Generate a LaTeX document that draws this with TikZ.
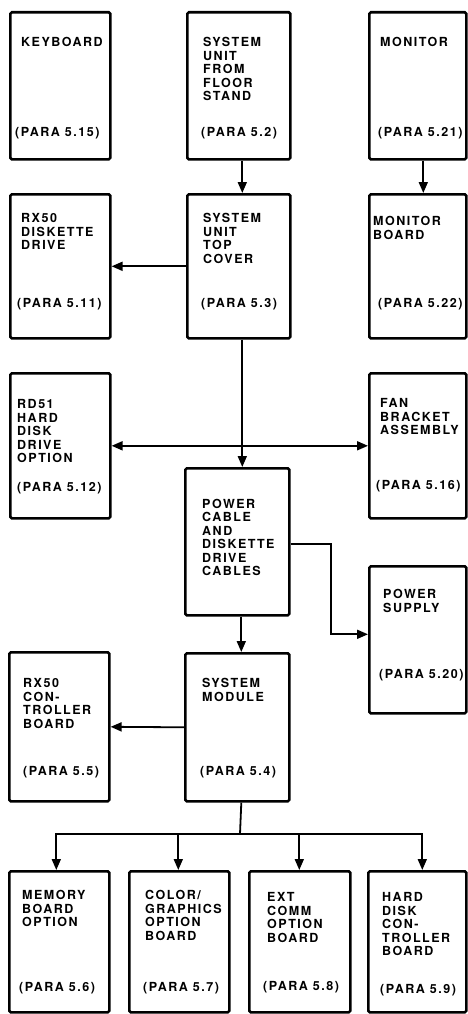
\documentclass[tikz,border=0pt]{standalone}
\usepackage{fontspec}
\setmainfont{TeX Gyre Heros}[LetterSpace=12]
\usetikzlibrary{arrows.meta,calc}

\tikzset{
  unit/.style={draw, line width=2.6pt, rounded corners=1.5pt, anchor=north west, inner sep=0pt},
  title/.style={anchor=north west, align=left, inner sep=0pt, font=\fontsize{12.5}{13.5}\selectfont\bfseries},
  para/.style={anchor=base west, inner sep=0pt, font=\fontsize{12.5}{13.5}\selectfont\bfseries},
  link/.style={line width=1.8pt, -{Triangle[length=11pt,width=9pt]}},
}

\begin{document}
\begin{tikzpicture}[x=1pt,y=-1pt]
  \useasboundingbox (0,0) rectangle (467,1014);
  % boxes: name / left / top / width / height
  \foreach \nm/\x/\y/\w/\h in {kbd/9/11/100/147, floor/186/11/103/147, mon/368/11/97/147,
      rxd/9/193/100/144, cover/186/193/103/144, monb/368/193/97/144,
      rd51/9/372/100/145, fan/368/372/97/145, cable/184/467/104/147, psu/368/565/97/147,
      rxc/8/651/100/149, sysmod/184/652/104/148,
      mem/8/870/100/141, col/128/870/100/141, ext/248/870/101/141, hdc/367/870/98/141}
    \node[unit, minimum width=\w pt, minimum height=\h pt] (\nm) at (\x,\y) {};

  % titles
  \node[title] (kbd-t) at (21,37.5) {KEYBOARD};
  \node[title] (floor-t) at (203,37.5) {SYSTEM\\UNIT\\FROM\\FLOOR\\STAND};
  \node[title] (mon-t) at (380,37.5) {MONITOR};
  \node[title] (rxd-t) at (21,213.5) {RX50\\DISKETTE\\DRIVE};
  \node[title] (cover-t) at (203,213.5) {SYSTEM\\UNIT\\TOP\\COVER};
  \node[title] (monb-t) at (373,216.5) {MONITOR\\BOARD};
  \node[title] (rd51-t) at (17,399.5) {RD51\\HARD\\DISK\\DRIVE\\OPTION};
  \node[title] (fan-t) at (380,398.5) {FAN\\BRACKET\\ASSEMBLY};
  \node[title] (cable-t) at (202,499) {POWER\\CABLE\\AND\\DISKETTE\\DRIVE\\CABLES};
  \node[title] (psu-t) at (383,589.5) {POWER\\SUPPLY};
  \node[title] (rxc-t) at (23,678.5) {RX50\\CON-\\TROLLER\\BOARD};
  \node[title] (sysmod-t) at (202,678.5) {SYSTEM\\MODULE};
  \node[title] (mem-t) at (22,890.5) {MEMORY\\BOARD\\OPTION};
  \node[title] (col-t) at (145,890.5) {COLOR/\\GRAPHICS\\OPTION\\BOARD};
  \node[title] (ext-t) at (267,892.5) {EXT\\COMM\\OPTION\\BOARD};
  \node[title] (hdc-t) at (382,892.5) {HARD\\DISK\\CON-\\TROLLER\\BOARD};

  % paragraph references
  \node[para] (kbd-p) at (15,136.5) {(PARA 5.15)};
  \node[para] (floor-p) at (201,136.5) {(PARA 5.2)};
  \node[para] (mon-p) at (378,136.5) {(PARA 5.21)};
  \node[para] (rxd-p) at (17,307.5) {(PARA 5.11)};
  \node[para] (cover-p) at (201,307.5) {(PARA 5.3)};
  \node[para] (monb-p) at (378,307.5) {(PARA 5.22)};
  \node[para] (rd51-p) at (17,491.5) {(PARA 5.12)};
  \node[para] (fan-p) at (376,489.5) {(PARA 5.16)};
  \node[para] (psu-p) at (379,678.5) {(PARA 5.20)};
  \node[para] (rxc-p) at (23,775.5) {(PARA 5.5)};
  \node[para] (sysmod-p) at (200,775.5) {(PARA 5.4)};
  \node[para] (mem-p) at (19,991.5) {(PARA 5.6)};
  \node[para] (col-p) at (143,991.5) {(PARA 5.7)};
  \node[para] (ext-p) at (263,990.5) {(PARA 5.8)};
  \node[para] (hdc-p) at (380,993.5) {(PARA 5.9)};

  % connectors
  \draw[link] ([xshift=3.5pt]floor.south) -- ([xshift=3.5pt]cover.north);
  \draw[link] ([xshift=5.5pt]mon.south) -- ([xshift=5.5pt]monb.north);
  \draw[link] (cover.west) -- (rxd.east);
  \draw[link] ([xshift=3.5pt]cover.south) -- ([xshift=5pt]cable.north);
  \draw[line width=1.8pt, {Triangle[length=11pt,width=9pt]}-{Triangle[length=11pt,width=9pt]}] (rd51.east) -- (fan.west);
  \draw[link] ([yshift=-2.5pt]cable.east) -- ++(40,0) |- ([yshift=5.5pt]psu.west);
  \draw[link] ([xshift=4pt]cable.south) -- ([xshift=4pt]sysmod.north);
  \draw[link] (sysmod.west) -- (rxc.east);
  \coordinate (split) at (240,834);
  \draw[line width=1.8pt] ([xshift=4pt]sysmod.south) -- (split);
  \foreach \nm/\dx in {mem/-3, col/-1, ext/-0.5, hdc/5}
    \draw[link] (split) -| ([xshift=\dx pt]\nm.north);
\end{tikzpicture}
\end{document}
